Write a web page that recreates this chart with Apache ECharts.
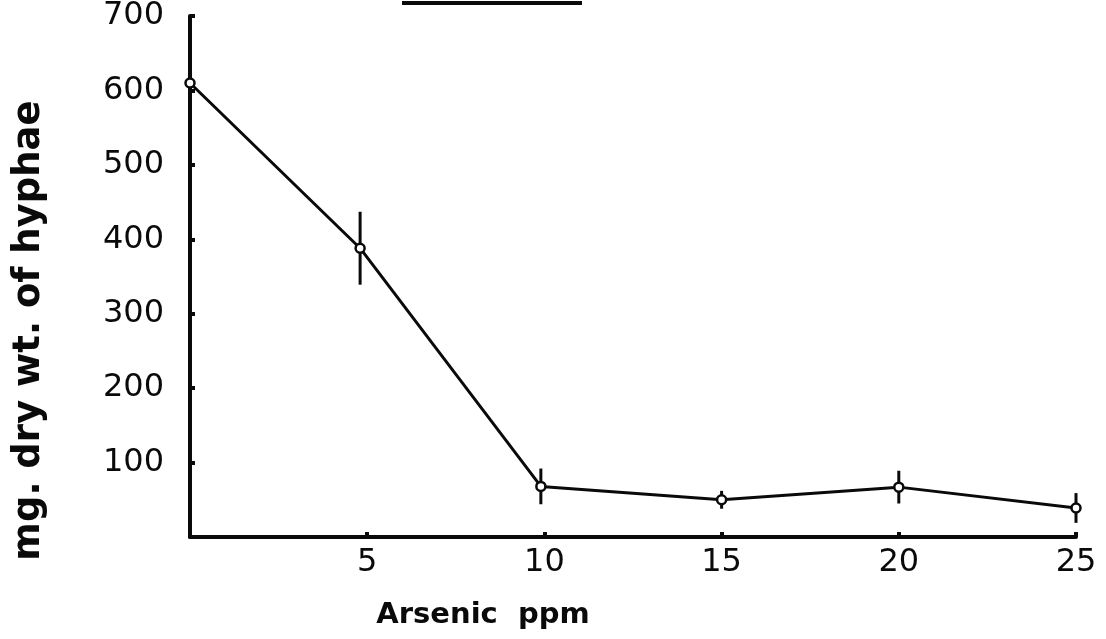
<!DOCTYPE html>
<html>
<head>
<meta charset="utf-8">
<script src="https://cdn.jsdelivr.net/npm/echarts@6/dist/echarts.min.js"></script>
<style>
  html, body { margin: 0; padding: 0; background: #fff; }
  #chart { width: 1106px; height: 639px; }
</style>
</head>
<body>
<div id="chart"></div>
<script>
// Arsenic concentration (ppm) and mean dry weight of hyphae (mg) with error half-widths
const arsenicPpm = [0, 4.8, 9.9, 15, 20, 25];
const dryWeight = [610, 388, 68, 50, 67, 39];
const errorHalf = [25, 49, 24, 12, 22, 20];
const xTicks = [0, 5, 10, 15, 20, 25];
const yTicks = [0, 100, 200, 300, 400, 500, 600, 700];

const ink = '#0a0a0a';
const tickFont = { color: ink, fontSize: 32, fontFamily: 'DejaVu Sans' };

const lineData = arsenicPpm.map((x, i) => [x, dryWeight[i]]);
const errData = arsenicPpm.map((x, i) => [x, dryWeight[i] - errorHalf[i], dryWeight[i] + errorHalf[i]]);

const chart = echarts.init(document.getElementById('chart'));
chart.setOption({
  backgroundColor: '#fff',
  animation: false,
  grid: { left: 190, right: 30, top: 16, bottom: 102, outerBoundsMode: 'none', containLabel: false },
  xAxis: {
    type: 'value',
    min: xTicks[0], max: xTicks[xTicks.length - 1], interval: 5,
    name: 'Arsenic  ppm',
    nameLocation: 'middle',
    nameGap: 64,
    nameTextStyle: { color: ink, fontSize: 29, fontWeight: 'bold', fontFamily: 'DejaVu Sans', padding: [0, 300, 0, 0] },
    axisLine: { lineStyle: { color: ink, width: 4 } },
    axisTick: { inside: true, length: 5, lineStyle: { color: ink, width: 4 } },
    axisLabel: { ...tickFont, margin: 10, formatter: v => (v === 0 ? '' : String(v)) },
    splitLine: { show: false }
  },
  yAxis: {
    type: 'value',
    min: yTicks[0], max: yTicks[yTicks.length - 1], interval: 100,
    name: 'mg. dry wt. of hyphae',
    nameLocation: 'middle',
    nameGap: 142,
    nameTextStyle: { color: ink, fontSize: 37, fontWeight: 'bold', fontFamily: 'DejaVu Sans', padding: [0, 108, 0, 0] },
    axisLine: { lineStyle: { color: ink, width: 4 } },
    axisTick: { inside: true, length: 5, lineStyle: { color: ink, width: 4 } },
    axisLabel: { ...tickFont, margin: 26, formatter: v => (v === 0 ? '' : String(v)) },
    splitLine: { show: false }
  },
  series: [
    {
      type: 'custom',
      data: errData,
      z: 3,
      renderItem: (params, api) => {
        const lo = api.coord([api.value(0), api.value(1)]);
        const hi = api.coord([api.value(0), api.value(2)]);
        return {
          type: 'line',
          shape: { x1: lo[0], y1: lo[1], x2: hi[0], y2: hi[1] },
          style: { stroke: ink, lineWidth: 3 }
        };
      }
    },
    {
      type: 'line',
      data: lineData,
      z: 4,
      symbol: 'circle',
      symbolSize: 9,
      lineStyle: { color: ink, width: 3 },
      itemStyle: { color: '#fff', borderColor: ink, borderWidth: 2.5 }
    }
  ],
  graphic: [
    {
      type: 'line',
      shape: { x1: 402, y1: 3, x2: 582, y2: 3 },
      style: { stroke: ink, lineWidth: 4 }
    }
  ]
});
</script>
</body>
</html>
